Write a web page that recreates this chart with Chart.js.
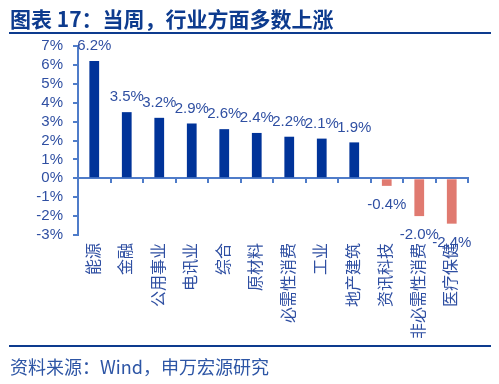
<!DOCTYPE html>
<html>
<head>
<meta charset="utf-8">
<script src="https://cdn.jsdelivr.net/npm/chart.js@4"></script>
<style>
  body { margin: 0; background: #fff; }
  #wrap { position: relative; width: 499px; height: 384px; overflow: hidden; }
  #chart { position: absolute; left: 0; top: 0; }
  .title { position: absolute; left: 10px; top: 6px; font: bold 21px "Noto Sans CJK SC", sans-serif; line-height: 24px; color: #0d3b8e; white-space: nowrap; }
  .rule { position: absolute; left: 9px; width: 482px; height: 2px; background: #0d3b8e; }
  .source { position: absolute; left: 10px; top: 355px; font: 18px "Noto Sans CJK SC", sans-serif; line-height: 22px; color: #2d55a5; white-space: nowrap; }
</style>
</head>
<body>
<div id="wrap">
  <canvas id="chart" width="499" height="384"></canvas>
  <div class="title">图表 17：当周，行业方面多数上涨</div>
  <div class="rule" style="top:32px"></div>
  <div class="rule" style="top:345px"></div>
  <div class="source">资料来源：Wind，申万宏源研究</div>
</div>
<script>
'use strict';

// Datos del gráfico
const sectores = ['能源', '金融', '公用事业', '电讯业', '综合', '原材料', '必需性消费', '工业', '地产建筑', '资讯科技', '非必需性消费', '医疗保健'];
const variacion = [6.2, 3.5, 3.2, 2.9, 2.6, 2.4, 2.2, 2.1, 1.9, -0.4, -2.0, -2.4];
const etiquetas = ['6.2%', '3.5%', '3.2%', '2.9%', '2.6%', '2.4%', '2.2%', '2.1%', '1.9%', '-0.4%', '-2.0%', '-2.4%'];

const azul = '#003399';
const rojo = '#e07a70';
const ejeColor = '#4f7cc9';
const textoColor = '#2f4fa2';
const fuente = '"Liberation Sans", Arial, "Noto Sans CJK SC", sans-serif';

// etiquetas de valor sobre / bajo las barras
const valoresPlugin = {
  id: 'valores',
  afterDatasetsDraw(chart) {
    const ctx = chart.ctx;
    const meta = chart.getDatasetMeta(0);
    ctx.save();
    ctx.font = '15px ' + fuente;
    ctx.fillStyle = textoColor;
    ctx.textAlign = 'center';
    ctx.textBaseline = 'middle';
    meta.data.forEach((bar, i) => {
      const v = variacion[i];
      const y = v >= 0 ? bar.y - 15 : bar.y + 19;
      ctx.fillText(etiquetas[i], bar.x, y);
    });
    ctx.restore();
  }
};

new Chart(document.getElementById('chart'), {
  type: 'bar',
  data: {
    labels: sectores,
    datasets: [{
      data: variacion,
      backgroundColor: variacion.map(v => v >= 0 ? azul : rojo),
      barPercentage: 0.3,
      categoryPercentage: 1
    }]
  },
  options: {
    responsive: false,
    animation: false,
    layout: { padding: { left: 10, right: 31, top: 46, bottom: 39 } },
    plugins: { legend: { display: false }, tooltip: { enabled: false } },
    scales: {
      x: {
        offset: true,
        grid: { display: false, drawTicks: false },
        border: { display: false },
        ticks: {
          maxRotation: 90, minRotation: 90, padding: 8, autoSkip: false,
          color: textoColor, font: { size: 16, family: fuente }
        },
        afterFit(scale) { scale.height = 110; }
      },
      x2: {
        type: 'category',
        labels: sectores,
        position: { y: 0 },
        offset: true,
        grid: { offset: true, drawOnChartArea: false, drawTicks: true, tickLength: 4, color: ejeColor, lineWidth: 2 },
        border: { display: true, color: ejeColor, width: 2 },
        ticks: { display: false }
      },
      y: {
        min: -3,
        max: 7,
        grid: { drawOnChartArea: false, drawTicks: true, tickLength: 5, color: ejeColor, lineWidth: 2 },
        border: { display: true, color: ejeColor, width: 2 },
        ticks: {
          stepSize: 1, padding: 10, autoSkip: false, color: textoColor,
          font: { size: 15, family: fuente },
          callback: v => v + '%'
        },
        afterFit(scale) { scale.width = 68; }
      }
    }
  },
  plugins: [valoresPlugin]
});
</script>
</body>
</html>
